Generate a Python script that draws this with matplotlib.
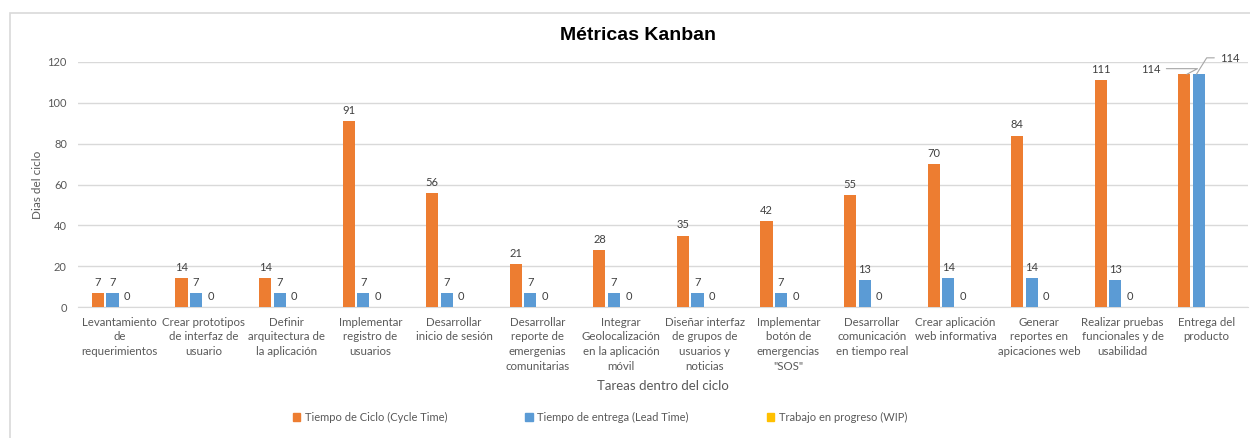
import matplotlib
matplotlib.use("Agg")
import matplotlib.pyplot as plt
from matplotlib.patches import Rectangle
import numpy as np

categories = [
    "Levantamiento\nde\nrequerimientos",
    "Crear prototipos\nde interfaz de\nusuario",
    "Definir\narquitectura de\nla aplicación",
    "Implementar\nregistro de\nusuarios",
    "Desarrollar\ninicio de sesión",
    "Desarrollar\nreporte de\nemergenias\ncomunitarias",
    "Integrar\nGeolocalización\nen la aplicación\nmóvil",
    "Diseñar interfaz\nde grupos de\nusuarios y\nnoticias",
    "Implementar\nbotón de\nemergencias\n\"SOS\"",
    "Desarrollar\ncomunicación\nen tiempo real",
    "Crear aplicación\nweb informativa",
    "Generar\nreportes en\napicaciones web",
    "Realizar pruebas\nfuncionales y de\nusabilidad",
    "Entrega del\nproducto",
]
cycle_time = [7, 14, 14, 91, 56, 21, 28, 35, 42, 55, 70, 84, 111, 114]
lead_time = [7, 7, 7, 7, 7, 7, 7, 7, 7, 13, 14, 14, 13, 114]
wip = [0, 0, 0, 0, 0, 0, 0, 0, 0, 0, 0, 0, 0, None]

series_names = ["Tiempo de Ciclo (Cycle Time)", "Tiempo de entrega (Lead Time)", "Trabajo en progreso (WIP)"]
colors = ["#ED7D31", "#5B9BD5", "#FFC000"]

plt.rcParams['font.family'] = ['Lato', 'DejaVu Sans']
txt_color = "#595959"

fig = plt.figure(figsize=(12.5, 4.38), dpi=100)
fig.patches.append(Rectangle((10 / 1250, -0.1), 1.1, 1 - 13 / 438 + 0.1, transform=fig.transFigure,
                             fill=False, edgecolor="#D9D9D9", linewidth=1.2))

ax = fig.add_axes([78 / 1250, 1 - 307 / 438, 1170 / 1250, 245 / 438])

x = np.arange(len(categories))
slot = 0.174
width = 0.145
offsets = [-1.5 * slot, -0.5 * slot, 0.5 * slot]

for s, (vals, col) in enumerate(zip([cycle_time, lead_time, wip], colors)):
    for i, v in enumerate(vals):
        if v is None:
            continue
        xi = x[i] + offsets[s]
        ax.bar(xi, v, width=width, color=col, zorder=3)
        if i == len(categories) - 1:
            continue
        ax.text(xi, v + 2.5, str(v), ha="center", va="bottom", fontsize=8, color="#404040")

# leader-line labels on the last category
last = len(categories) - 1
ax.annotate(str(cycle_time[last]), xy=(x[last] + offsets[0] + 0.03, cycle_time[last]),
            xytext=(x[last] - 0.66, cycle_time[last] + 2.2), ha="center", va="center",
            fontsize=8, color="#404040",
            arrowprops=dict(arrowstyle="-", color="#A6A6A6", lw=0.8, relpos=(1, 0.6),
                            connectionstyle="angle,angleA=0,angleB=28,rad=0", shrinkA=2, shrinkB=0))
ax.annotate(str(lead_time[last]), xy=(x[last] + offsets[1] - 0.03, lead_time[last]),
            xytext=(x[last] + 0.28, lead_time[last] + 7.5), ha="center", va="center",
            fontsize=8, color="#404040",
            arrowprops=dict(arrowstyle="-", color="#A6A6A6", lw=0.8, relpos=(0, 0.6),
                            connectionstyle="angle,angleA=0,angleB=58,rad=0", shrinkA=2, shrinkB=0))

ax.set_xlim(-0.5, len(categories) - 0.5)
ax.set_ylim(0, 120)
ax.set_yticks(range(0, 121, 20))
ax.grid(axis="y", color="#D9D9D9", linewidth=1, zorder=0)
ax.set_axisbelow(True)
for sp in ["top", "right", "left"]:
    ax.spines[sp].set_visible(False)
ax.spines["bottom"].set_color("#D9D9D9")
ax.tick_params(axis="both", length=0, colors=txt_color, labelsize=8)
ax.tick_params(axis="y", pad=8)
ax.tick_params(axis="x", pad=7)
ax.set_xticks(x)
ax.set_xticklabels(categories, fontsize=8.3, color=txt_color, linespacing=1.4)

ax.set_ylabel("Dias del ciclo", fontsize=8.5, color=txt_color, labelpad=3)
ax.set_xlabel("Tareas dentro del ciclo", fontsize=9.5, color=txt_color, labelpad=6)

fig.text(638 / 1250, 1 - 35 / 438, "Métricas Kanban", ha="center", va="center",
         fontsize=14, fontweight="bold", family="Liberation Sans", color="black")

handles = [Rectangle((0, 0), 1, 1, color=c) for c in colors]
fig.legend(handles, series_names, loc="center", bbox_to_anchor=(600 / 1250, 1 - 417 / 438),
           ncol=3, frameon=False, fontsize=8, labelcolor=txt_color, handlelength=0.7,
           handleheight=0.7, handletextpad=0.4, columnspacing=7)

fig.savefig("out.png", dpi=100)
